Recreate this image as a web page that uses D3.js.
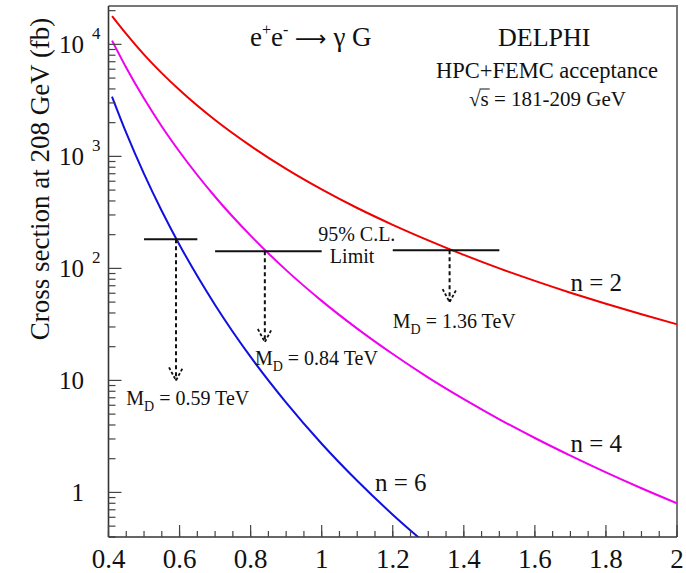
<!DOCTYPE html>
<html>
<head>
<meta charset="utf-8">
<script src="https://cdn.jsdelivr.net/npm/d3@7"></script>
<style>
  html, body { margin: 0; padding: 0; background: #fff; }
  svg { display: block; }
  text { font-family: "Liberation Serif", "DejaVu Serif", serif; fill: #111; }
</style>
</head>
<body>
<svg id="chart" width="686" height="573"></svg>
<script>
// Scale mass M_D (TeV) on the x axis
const massPoints = [0.41, 0.45, 0.5, 0.55, 0.6, 0.7, 0.8, 0.9, 1.0, 1.1, 1.2, 1.3, 1.4, 1.5, 1.6, 1.7, 1.8, 1.9, 2.0];

// Cross sections (fb) for each number of extra dimensions
const sigmaN2 = [17900, 12400, 8100, 5540, 3910, 2110, 1240, 773, 507, 346, 245, 178, 132, 100, 77.4, 60.7, 48.3, 38.9, 31.7];
const sigmaN4 = [10800, 6180, 3280, 1850, 1100, 436, 196, 96.5, 51.3, 29.0, 17.2, 10.6, 6.81, 4.50, 3.06, 2.13, 1.51, 1.09, 0.80];
const sigmaN6 = [3410, 1620, 697, 325, 162, 47.2, 16.2, 6.33, 2.72, 1.27, 0.633, 0.334, null, null, null, null, null, null, null];

const seriesNames = ["n = 2", "n = 4", "n = 6"];
const seriesColors = ["#f00000", "#f000f0", "#1010e0"];

// 95% C.L. limits: cross-section limit, horizontal extent of the limit bar, resulting M_D and arrow end
const limitSigma = [145, 142, 182];
const limitFrom = [1.2, 0.7, 0.5];
const limitTo = [1.5, 1.0, 0.65];
const limitMass = [1.36, 0.84, 0.59];
const arrowEnd = [50, 22, 10];

// Axis ticks
const xTicks = [0.4, 0.6, 0.8, 1, 1.2, 1.4, 1.6, 1.8, 2];
const yMajorExp = [0, 1, 2, 3, 4];

const svg = d3.select("#chart");
const plot = { left: 108.5, right: 677, top: 6, bottom: 537 };

const x = d3.scaleLinear().domain([0.4, 2.0]).range([plot.left, plot.right]);
const y = d3.scaleLog().domain([0.4, 22000]).range([plot.bottom, plot.top]);

svg.append("defs").append("clipPath").attr("id", "plotClip")
  .append("rect")
  .attr("x", plot.left).attr("y", plot.top)
  .attr("width", plot.right - plot.left).attr("height", plot.bottom - plot.top);

// Frame: top and right borders
svg.append("path")
  .attr("d", `M${plot.left},${plot.top}H${plot.right}V${plot.bottom}`)
  .attr("fill", "none").attr("stroke", "#777").attr("stroke-width", 2);

// Curves
const tables = [sigmaN2, sigmaN4, sigmaN6];
const line = d3.line()
  .defined(d => d[1] != null)
  .x(d => x(d[0]))
  .y(d => y(d[1]))
  .curve(d3.curveMonotoneX);

tables.forEach((vals, i) => {
  const pts = massPoints.map((m, k) => [m, vals[k]]);
  svg.append("path")
    .attr("clip-path", "url(#plotClip)")
    .attr("d", line(pts))
    .attr("fill", "none")
    .attr("stroke", seriesColors[i])
    .attr("stroke-width", 2);
});

// Limit bars and arrows
limitSigma.forEach((s, i) => {
  svg.append("line")
    .attr("x1", x(limitFrom[i])).attr("x2", x(limitTo[i]))
    .attr("y1", y(s)).attr("y2", y(s))
    .attr("stroke", "#111").attr("stroke-width", 2);

  const ax = x(limitMass[i]);
  const tipY = y(arrowEnd[i]);
  svg.append("line")
    .attr("x1", ax).attr("x2", ax)
    .attr("y1", y(s)).attr("y2", tipY)
    .attr("stroke", "#111").attr("stroke-width", 2)
    .attr("stroke-dasharray", "4,3");
  svg.append("path")
    .attr("d", `M${ax - 7},${tipY - 13}L${ax},${tipY}L${ax + 7},${tipY - 13}`)
    .attr("fill", "none")
    .attr("stroke", "#111").attr("stroke-width", 1.8)
    .attr("stroke-dasharray", "3,2");
});

// Limit bar caption
const cl = svg.append("g").attr("font-size", 20);
cl.append("text").attr("x", x(0.99)).attr("y", 241).text("95% C.L.");
cl.append("text").attr("x", x(1.023)).attr("y", 263).text("Limit");

// Mass labels under the arrows
const mdPos = [[1.2, 328], [0.812, 365], [0.45, 405]];
limitMass.forEach((m, i) => {
  const t = svg.append("text").attr("font-size", 20)
    .attr("x", x(mdPos[i][0])).attr("y", mdPos[i][1]);
  t.append("tspan").text("M");
  t.append("tspan").attr("font-size", 14).attr("dy", 6).text("D");
  t.append("tspan").attr("dy", -6).text(` = ${m.toFixed(2)} TeV`);
});

// Series labels
const seriesLabelPos = [[1.70, 291], [1.70, 452], [1.15, 491]];
seriesNames.forEach((n, i) => {
  svg.append("text").attr("font-size", 25)
    .attr("x", x(seriesLabelPos[i][0])).attr("y", seriesLabelPos[i][1])
    .text(n);
});

// Left axis
const yAxisG = svg.append("g");
yAxisG.append("line")
  .attr("x1", plot.left).attr("x2", plot.left)
  .attr("y1", plot.top).attr("y2", plot.bottom)
  .attr("stroke", "#333").attr("stroke-width", 1.6);

const yMinor = [];
for (let e = -1; e <= 4; e++) {
  for (let k = 2; k <= 9; k++) {
    const v = k * Math.pow(10, e);
    if (v >= 0.4 && v <= 22000) yMinor.push(v);
  }
}
yAxisG.selectAll(".yminor").data(yMinor).join("line")
  .attr("x1", plot.left).attr("x2", plot.left + 7)
  .attr("y1", d => y(d)).attr("y2", d => y(d))
  .attr("stroke", "#444").attr("stroke-width", 1.2);
yAxisG.selectAll(".ymajor").data(yMajorExp).join("line")
  .attr("x1", plot.left).attr("x2", plot.left + 13)
  .attr("y1", d => y(Math.pow(10, d))).attr("y2", d => y(Math.pow(10, d)))
  .attr("stroke", "#444").attr("stroke-width", 1.2);

yMajorExp.forEach(e => {
  const yy = y(Math.pow(10, e));
  const label = e === 0 ? "1" : "10";
  yAxisG.append("text").attr("font-size", 25).attr("text-anchor", "end")
    .attr("x", 84).attr("y", yy + 9).text(label);
  if (e >= 2) {
    yAxisG.append("text").attr("font-size", 17)
      .attr("x", 92).attr("y", yy - 5).text(String(e));
  }
});

svg.append("text")
  .attr("font-size", 27)
  .attr("text-anchor", "middle")
  .attr("transform", "translate(49,179) rotate(-90)")
  .text("Cross section at 208 GeV (fb)");

// Bottom axis
const xAxisG = svg.append("g");
xAxisG.append("line")
  .attr("x1", plot.left).attr("x2", plot.right)
  .attr("y1", plot.bottom).attr("y2", plot.bottom)
  .attr("stroke", "#333").attr("stroke-width", 1.6);
const xMinor = d3.range(0, 33).map(i => 0.4 + i * 0.05);
xAxisG.selectAll(".xminor").data(xMinor).join("line")
  .attr("x1", d => x(d)).attr("x2", d => x(d))
  .attr("y1", plot.bottom).attr("y2", plot.bottom - 6)
  .attr("stroke", "#444").attr("stroke-width", 1.2);
xAxisG.selectAll(".xmajor").data(xTicks).join("line")
  .attr("x1", d => x(d)).attr("x2", d => x(d))
  .attr("y1", plot.bottom).attr("y2", plot.bottom - 12)
  .attr("stroke", "#444").attr("stroke-width", 1.2);
xAxisG.selectAll(".xlabel").data(xTicks).join("text")
  .attr("font-size", 27).attr("text-anchor", "middle")
  .attr("x", d => x(d)).attr("y", 568)
  .text(d => String(d));

// Header texts
const proc = svg.append("text").attr("font-size", 27).attr("x", 250).attr("y", 46);
proc.append("tspan").text("e");
proc.append("tspan").attr("font-size", 16).attr("dy", -11).text("+");
proc.append("tspan").attr("dy", 11).text("e");
proc.append("tspan").attr("font-size", 16).attr("dy", -11).text("-");
proc.append("tspan").attr("dy", 11).text(" ");
proc.append("tspan").attr("font-family", "DejaVu Sans").attr("font-size", 22).text("\u27F6");
proc.append("tspan").text(" \u03B3 G");

svg.append("text").attr("font-size", 26).attr("x", 498).attr("y", 46).text("DELPHI");
svg.append("text").attr("font-size", 22.5).attr("x", 436).attr("y", 78).text("HPC+FEMC acceptance");

const sq = svg.append("text").attr("font-size", 21).attr("x", 469).attr("y", 106);
sq.append("tspan").text("\u221A");
sq.append("tspan").text("s");
sq.append("tspan").text(" = 181-209 GeV");
// overline above the "s" under the root sign
const sStart = sq.node().getStartPositionOfChar(1);
const sEnd = sq.node().getEndPositionOfChar(1);
svg.append("line")
  .attr("x1", sStart.x - 1).attr("x2", sEnd.x + 1)
  .attr("y1", 106 - 17).attr("y2", 106 - 17)
  .attr("stroke", "#111").attr("stroke-width", 1);
</script>
</body>
</html>
